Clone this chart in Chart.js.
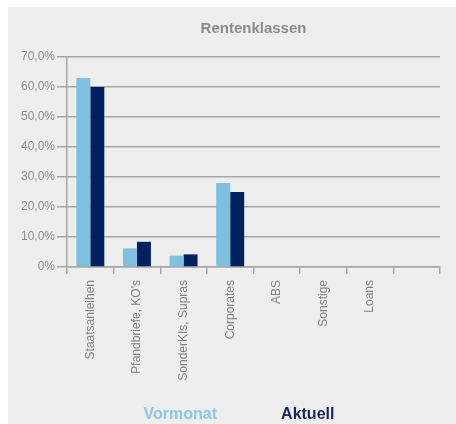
<!DOCTYPE html>
<html>
<head>
<meta charset="utf-8">
<script src="https://cdn.jsdelivr.net/npm/chart.js@4.4.1/dist/chart.umd.min.js"></script>
<style>
    html, body { margin: 0; padding: 0; background: #ffffff; overflow: hidden; }
    #panel {
        position: absolute; left: 8px; top: 7px; width: 448px; height: 417px;
        background: #eeeeee; overflow: hidden;
    }
    #chart { display: block; }
</style>
</head>
<body>
<div id="panel">
    <canvas id="chart" width="507" height="432"></canvas>
</div>
<script>
// Chart data
const categories = ['Staatsanleihen', "Pfandbriefe, KO's", 'SonderKIs, Supras', 'Corporates', 'ABS', 'Sonstige', 'Loans', ''];
const vormonat = [63.0, 6.2, 3.8, 28.0, 0, 0, 0, 0];
const aktuell = [60.0, 8.4, 4.2, 25.0, 0, 0, 0, 0];
const yTickLabels = ['0%', '10,0%', '20,0%', '30,0%', '40,0%', '50,0%', '60,0%', '70,0%'];
const seriesNames = ['Vormonat', 'Aktuell'];
const seriesColors = ['#7fc0df', '#002060'];
const legendColors = ['#8cc6e2', '#17275a'];

document.addEventListener('DOMContentLoaded', () => {
    const ctx = document.getElementById('chart').getContext('2d');
    const gridColor = '#a6a6a6';
    const fontFamily = 'Arial, "Liberation Sans", sans-serif';

    new Chart(ctx, {
        type: 'bar',
        data: {
            labels: categories,
            datasets: [
                { label: seriesNames[0], data: vormonat, backgroundColor: seriesColors[0], borderWidth: 0 },
                { label: seriesNames[1], data: aktuell, backgroundColor: seriesColors[1], borderWidth: 0 }
            ]
        },
        options: {
            responsive: false,
            animation: false,
            datasets: { bar: { categoryPercentage: 0.6, barPercentage: 1.0 } },
            layout: { padding: { left: 11, right: 0, top: 0, bottom: 6 } },
            plugins: {
                title: {
                    display: true,
                    fullSize: false,
                    text: 'Rentenklassen',
                    color: '#8c8c8c',
                    font: { family: fontFamily, size: 15, weight: 'bold' },
                    padding: { top: 13, bottom: 19 }
                },
                legend: {
                    display: true,
                    position: 'bottom',
                    rtl: true,
                    reverse: true,
                    labels: {
                        boxWidth: 48,
                        padding: 8,
                        font: { family: fontFamily, size: 16, weight: 'bold' },
                        generateLabels: chart => chart.data.datasets.map((ds, i) => ({
                            text: ds.label,
                            fontColor: legendColors[i],
                            fillStyle: 'rgba(0,0,0,0)',
                            strokeStyle: 'rgba(0,0,0,0)',
                            lineWidth: 0,
                            hidden: false,
                            datasetIndex: i
                        }))
                    }
                },
                tooltip: { enabled: false }
            },
            scales: {
                x: {
                    afterFit: scale => { scale.height = 132; },
                    grid: {
                        display: true,
                        drawOnChartArea: false,
                        drawTicks: true,
                        tickLength: 7,
                        color: gridColor,
                        lineWidth: 1.5,
                        offset: true
                    },
                    border: { display: true, color: gridColor, width: 1.5 },
                    ticks: {
                        autoSkip: false,
                        maxRotation: 90,
                        minRotation: 90,
                        padding: 6,
                        color: '#808080',
                        font: { family: fontFamily, size: 12 }
                    }
                },
                y: {
                    min: 0,
                    max: 70,
                    afterFit: scale => { scale.width = 48; },
                    grid: {
                        color: gridColor,
                        lineWidth: 1.5,
                        tickLength: 10
                    },
                    border: { display: true, color: gridColor, width: 1.5 },
                    ticks: {
                        stepSize: 10,
                        padding: 2,
                        color: '#8c8c8c',
                        font: { family: fontFamily, size: 12 },
                        callback: (value, index) => yTickLabels[index]
                    }
                },
                // empty spacer on the right so the legend centres like the original
                spacer: {
                    type: 'linear',
                    position: 'right',
                    afterFit: scale => { scale.width = 75; },
                    grid: { display: false },
                    border: { display: false },
                    ticks: { display: false }
                }
            }
        }
    });
    console.log('Chart initialized');
});
</script>
</body>
</html>
